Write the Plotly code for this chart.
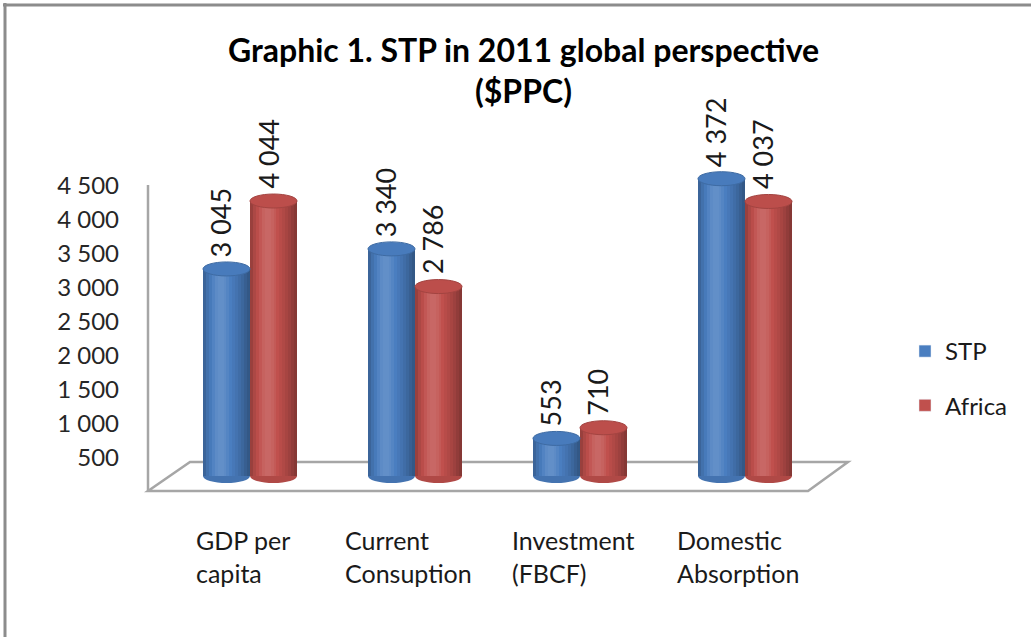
import plotly.graph_objects as go

# ---------------- data ----------------
categories = ["GDP per<br>capita", "Current<br>Consuption", "Investment<br>(FBCF)", "Domestic<br>Absorption"]
series_names = ["STP", "Africa"]
stp_values = [3045, 3340, 553, 4372]
africa_values = [4044, 2786, 710, 4037]
tick_values = [500, 1000, 1500, 2000, 2500, 3000, 3500, 4000, 4500]
tick_labels = ["500", "1 000", "1 500", "2 000", "2 500", "3 000", "3 500", "4 000", "4 500"]
title_lines = ["Graphic 1. STP in 2011 global perspective", "($PPC)"]

# ---------------- style ----------------
W, H = 1031, 637
L, R, T, B = 148, 848, 170, 492
FONT = "Lato"
base_colors = [(74, 126, 192), (192, 80, 77)]
BW = 0.285           # bar width in category units
CAP = 103            # half height of the elliptic cap, in value units
shade_profile = [0.80, 0.90, 0.97, 1.03, 1.07, 1.09, 1.09, 1.07, 1.04, 1.0,
                 0.96, 0.92, 0.87, 0.82, 0.76, 0.70]
N = len(shade_profile)


def px(xp):
    return (xp - L) / (R - L)


def py(yp):
    return (B - yp) / (B - T)


def shade(rgb, f):
    if f >= 1:
        return "rgb(%d,%d,%d)" % tuple(int(c + (255 - c) * (f - 1) * 1.5) for c in rgb)
    return "rgb(%d,%d,%d)" % tuple(int(c * f) for c in rgb)


def fmt(v):
    return f"{v:,}".replace(",", " ")


fig = go.Figure()
xs = list(range(len(categories)))
all_series = [stp_values, africa_values]
offsets = [-BW, 0.0]

shapes = []
annotations = []

# floor and left wall edge (decoration of the 3-D plot area)
floor_pts = [(148, 491), (808, 491), (848, 462), (190, 462)]
path = "M " + " L ".join(f"{px(a):.4f},{py(b):.4f}" for a, b in floor_pts) + " Z"
shapes.append(dict(type="path", path=path, xref="paper", yref="paper",
                   line=dict(color="#a6a6a6", width=2.5), fillcolor="rgba(0,0,0,0)", layer="below"))
shapes.append(dict(type="line", xref="paper", yref="paper", x0=px(148), x1=px(148), y0=py(491), y1=py(185),
                   line=dict(color="#a6a6a6", width=2.5), layer="below"))
# outer frame (top and left)
shapes.append(dict(type="line", xref="paper", yref="paper", x0=px(3), x1=px(W + 5), y0=py(5), y1=py(5),
                   line=dict(color="#8c8c8c", width=3)))
shapes.append(dict(type="line", xref="paper", yref="paper", x0=px(5), x1=px(5), y0=py(3), y1=py(H + 5),
                   line=dict(color="#8c8c8c", width=3)))

# invisible trace so that the value axis (front wall scale) is drawn
fig.add_trace(go.Scatter(x=[0], y=[1000], yaxis="y", mode="markers", marker=dict(opacity=0),
                         showlegend=False, hoverinfo="skip"))

for s, (name, vals) in enumerate(zip(series_names, all_series)):
    rgb = base_colors[s]
    off = offsets[s]
    sw = BW / N
    for k, f in enumerate(shade_profile):
        fig.add_trace(go.Bar(
            x=xs, y=vals, yaxis="y2",
            width=[sw * 1.05] * len(xs), offset=off + k * sw,
            marker=dict(color=shade(rgb, f), line=dict(width=0)),
            name=name, legendgroup=name,
            showlegend=False, hoverinfo="skip",
        ))
    # legend entry
    fig.add_trace(go.Bar(
        x=[None], y=[None], yaxis="y2", name=name, legendgroup=name,
        marker=dict(color=shade(rgb, 1.0)), showlegend=True,
    ))
    for i, v in zip(xs, vals):
        x0, x1 = i + off, i + off + BW
        # bottom rounding
        shapes.append(dict(type="circle", xref="x", yref="y2", x0=x0, x1=x1, y0=-CAP, y1=CAP,
                           fillcolor=shade(rgb, 0.92), line=dict(width=0), layer="below"))
        # top cap
        shapes.append(dict(type="circle", xref="x", yref="y2", x0=x0, x1=x1, y0=v - CAP, y1=v + CAP,
                           fillcolor=shade(rgb, 0.98), line=dict(color=shade(rgb, 0.85), width=1), layer="above"))
        annotations.append(dict(x=(x0 + x1) / 2, y=v + CAP, xref="x", yref="y2", text=fmt(v),
                                showarrow=False, textangle=-90, xanchor="center", yanchor="bottom",
                                xshift=-6, yshift=3, font=dict(family=FONT, size=27, color="#1a1a1a")))

# category labels (two lines, left aligned within the block)
for i, cat in zip(xs, categories):
    annotations.append(dict(x=i - 0.04, y=py(523), xref="x", yref="paper", text=cat,
                            showarrow=False, xanchor="center", yanchor="top", align="left",
                            font=dict(family=FONT, size=25, color="#1a1a1a")))

# title
for ln, yc in zip(title_lines, [50, 91]):
    annotations.append(dict(x=px(523), y=py(yc), xref="paper", yref="paper", text=f"<b>{ln}</b>",
                            showarrow=False, xanchor="center", yanchor="middle",
                            font=dict(family=FONT, size=32, color="#000000")))

span = 4735
fig.update_layout(
    width=W, height=H,
    margin=dict(l=L, r=W - R, t=T, b=H - B, pad=0, autoexpand=False),
    paper_bgcolor="white", plot_bgcolor="white",
    barmode="overlay", bargap=0,
    showlegend=True,
    legend=dict(x=px(905), y=py(329), xanchor="left", yanchor="top",
                font=dict(family=FONT, size=24, color="#1a1a1a"),
                tracegroupgap=20, itemwidth=30, bgcolor="rgba(0,0,0,0)"),
    xaxis=dict(range=[-(250 - L) / 165, -(250 - L) / 165 + (R - L) / 165], showticklabels=False,
               showgrid=False, zeroline=False, showline=False, ticks="", automargin=False),
    yaxis=dict(range=[0, span], tickvals=tick_values, ticktext=tick_labels, showgrid=False,
               zeroline=False, showline=False, ticks="", ticklabelstandoff=28, automargin=False,
               tickfont=dict(family=FONT, size=24, color="#262626")),
    yaxis2=dict(range=[-235, span - 235], overlaying="y", side="left", visible=False,
                showgrid=False, zeroline=False),
    shapes=shapes, annotations=annotations,
)
for tr in fig.data:
    tr.cliponaxis = False

fig.write_html("out.html", config={"displayModeBar": False},
               post_script="document.body.style.margin='0px';document.body.style.overflow='hidden';")
